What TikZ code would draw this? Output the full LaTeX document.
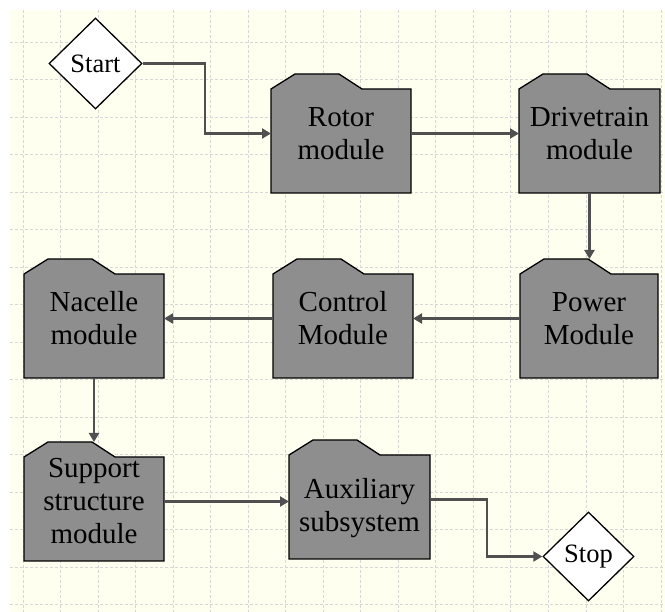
\documentclass[tikz,border=0pt]{standalone}
\usepackage{fontspec}
\setmainfont{Liberation Serif}
\usetikzlibrary{shapes.geometric,arrows.meta}
\pgfdeclarelayer{bg}
\pgfdeclarelayer{shapes}
\pgfsetlayers{bg,shapes,main}
\definecolor{cream}{RGB}{255,255,240}
\definecolor{gridc}{RGB}{215,215,215}
\definecolor{boxgray}{RGB}{142,142,142}
\definecolor{linec}{RGB}{80,80,80}
\newcommand\drawfolder[1]{%
  \draw[folderline] (#1.south west) -- ([yshift=-15pt]#1.north west)
    -- ++(24,-15) -- ++(44,0) -- ++(23,15)
    -- ([yshift=-15pt]#1.north east) -- (#1.south east) -- cycle;}
\begin{document}
\begin{tikzpicture}[x=1pt,y=-1pt,
  folder/.style={rectangle, minimum width=140pt, minimum height=119pt, inner sep=0pt, outer sep=0pt},
  foldertext/.style={font=\fontsize{29}{33}\selectfont, align=center, inner sep=0pt},
  decision/.style={diamond, draw=black, line width=1.3pt, fill=white, minimum width=93pt, minimum height=91pt, inner sep=0pt, font=\fontsize{26.5}{30}\selectfont},
  conn/.style={draw=linec, line width=2.2pt, -{Triangle[length=9pt,width=10pt]}},
  folderline/.style={draw=black, line width=1.3pt, fill=boxgray, line join=miter},
  gridline/.style={draw=gridc, line width=0.9pt, dash pattern=on 3pt off 2pt}
]
\useasboundingbox (0,0) rectangle (665,612);
\begin{pgfonlayer}{bg}
  \fill[white] (0,0) rectangle (665,612);
  \fill[cream] (10,10) rectangle (665,612);
  \foreach \k in {0,...,17} \draw[gridline] ({23+37.53*\k},10) -- ({23+37.53*\k},612);
  \foreach \k in {0,...,15} \draw[gridline] (10,{42+37.5*\k}) -- (665,{42+37.5*\k});
\end{pgfonlayer}

\node[decision] (start) at (95.5,63.5) {Start};
\node[decision, minimum width=91pt, minimum height=89pt] (stop) at (588.5,556.5) {Stop};

\node[folder] (rotor) at (341,133.5) {};
\node[folder, minimum width=141pt] (drive) at (589.5,133.5) {};
\node[folder, minimum width=138pt] (power) at (589,318.5) {};
\node[folder] (control) at (343,318.5) {};
\node[folder] (nacelle) at (94,318.5) {};
\node[folder] (support) at (94,501.5) {};
\node[folder, minimum width=141pt] (aux) at (359.5,499.5) {};

\node[foldertext] (rotorlabel) at (rotor.center) {Rotor\\module};
\node[foldertext] (drivelabel) at (drive.center) {Drivetrain\\module};
\node[foldertext] (powerlabel) at (power.center) {Power\\Module};
\node[foldertext] (controllabel) at (control.center) {Control\\Module};
\node[foldertext] (nacellelabel) at (nacelle.center) {Nacelle\\module};
\node[foldertext] (supportlabel) at (support.center) {Support\\structure\\module};
\node[foldertext] (auxlabel) at ([yshift=-8.5pt]aux.center) {Auxiliary\\subsystem};

\begin{pgfonlayer}{shapes}
  \drawfolder{rotor}
  \drawfolder{drive}
  \drawfolder{power}
  \drawfolder{control}
  \drawfolder{nacelle}
  \drawfolder{support}
  \drawfolder{aux}
\end{pgfonlayer}

\draw[conn] (start.east) -- ++(62,0) |- (rotor.west);
\draw[conn] (rotor.east) -- (drive.west);
\draw[conn] (drive.south) -- (drive.south |- power.north);
\draw[conn] (power.west) -- (control.east);
\draw[conn] (control.west) -- (nacelle.east);
\draw[conn] (nacelle.south) -- (support.north);
\draw[conn] (support.east) -- (support.east -| aux.west);
\draw[conn] (aux.east) -- ++(57,0) |- (stop.west);
\end{tikzpicture}
\end{document}
